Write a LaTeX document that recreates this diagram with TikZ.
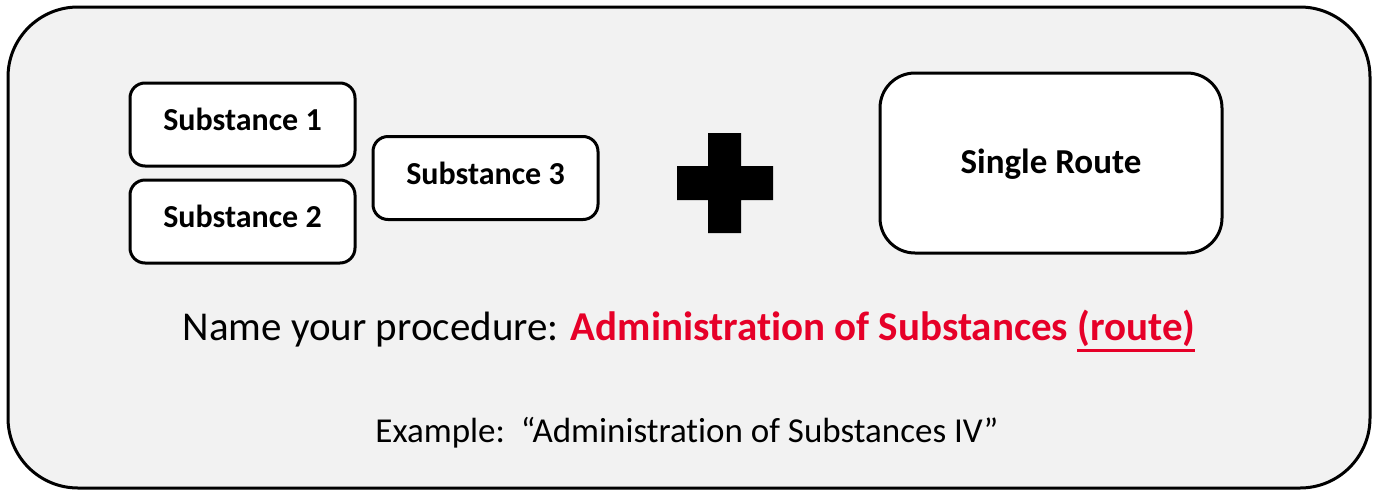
\documentclass[tikz,border=0pt]{standalone}
\usepackage{fontspec}
\setmainfont{Carlito}[Ligatures=CommonOff]
\definecolor{panelgray}{RGB}{242,242,242}
\definecolor{namered}{RGB}{230,0,40}
\newcommand{\redunder}[1]{\setbox0\hbox{#1}\rlap{\rule[-0.29em]{\wd0}{0.065em}}\box0}
\tikzset{
  subbox/.style={draw, line width=3, fill=white, rounded corners=15,
    minimum width=225, minimum height=83, inner sep=0,
    font=\fontsize{32}{38}\selectfont\bfseries, text height=22, text depth=10},
  routebox/.style={draw, line width=3, fill=white, rounded corners=35,
    minimum width=342, minimum height=180, inner sep=0,
    font=\fontsize{35}{42}\selectfont\bfseries, text height=25, text depth=4}
}

\begin{document}
\begin{tikzpicture}[x=1pt, y=-1pt]
    \useasboundingbox (0,0) rectangle (1377,491);

    % Panel
    \draw[line width=3, fill=panelgray, rounded corners=70] (8,7) rectangle (1370,488);

    % Substances
    \node[subbox] (sub1) at (242.5,124.5) {Substance 1};
    \node[subbox] (sub2) at (242.5,221.5) {Substance 2};
    \node[subbox] (sub3) at (485.5,178) {Substance 3};

    % Plus sign
    \fill (708,133) -- (741,133) -- (741,166) -- (773,166) -- (773,200) -- (741,200)
      -- (741,233) -- (708,233) -- (708,200) -- (677,200) -- (677,166) -- (708,166) -- cycle;

    % Route
    \node[routebox] (route) at (1051,163) {Single Route};

    % Name line
    \node[font=\fontsize{41}{48}\selectfont, anchor=base] (name) at (689,340)
      {Name your procedure: \textcolor{namered}{\bfseries Administration of Substances \redunder{(route)}}};
    \node[font=\fontsize{35}{42}\selectfont, anchor=base] (example) at (687,442)
      {Example:\ \ “Administration of Substances IV”};
\end{tikzpicture}
\end{document}
